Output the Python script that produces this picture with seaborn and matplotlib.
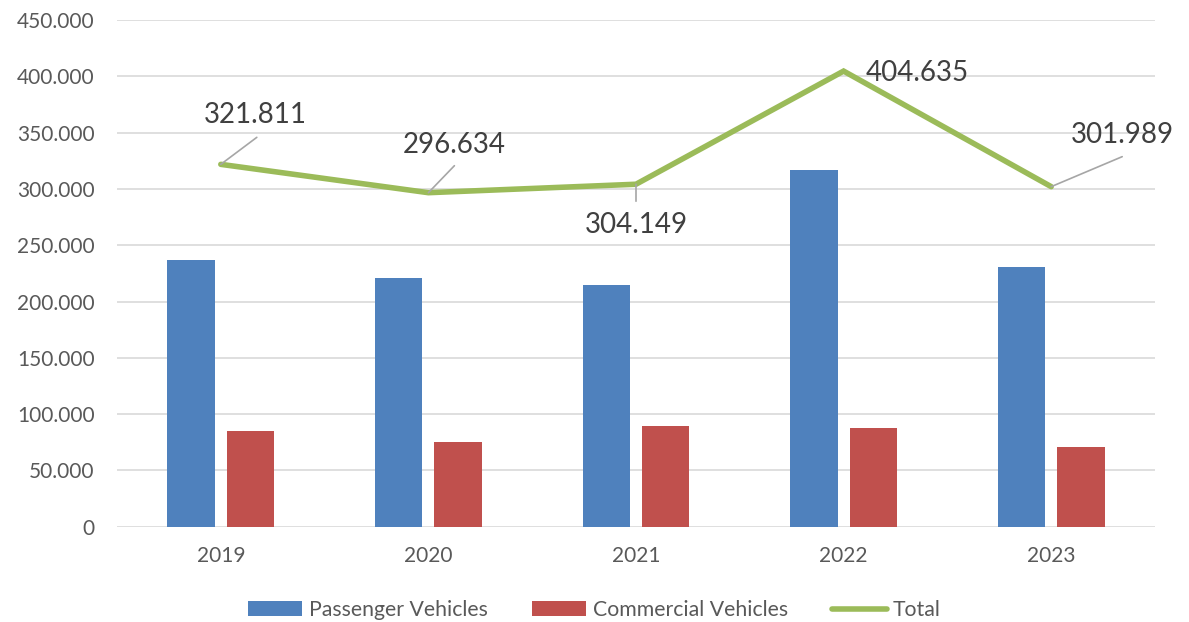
import matplotlib
matplotlib.use("Agg")
import matplotlib.pyplot as plt
from matplotlib.patches import Patch
from matplotlib.lines import Line2D
from matplotlib.ticker import FuncFormatter, MultipleLocator
import seaborn as sns
import pandas as pd

# ---- data (thousands of vehicles) ----
years = ["2019", "2020", "2021", "2022", "2023"]
passenger = [237.0, 221.2, 214.3, 316.9, 230.8]
commercial = [84.8, 75.4, 89.8, 87.7, 71.2]
totals = [321.811, 296.634, 304.149, 404.635, 301.989]
series_names = ["Passenger Vehicles", "Commercial Vehicles", "Total"]

# ---- styling ----
BLUE, RED, GREEN = "#4F81BD", "#C0504D", "#9BBB59"
TICK_C, LABEL_C, GRID_C, LEADER_C = "#595959", "#404040", "#D9D9D9", "#A6A6A6"

sns.set_theme(style="white")
plt.rcParams["font.family"] = ["Lato", "DejaVu Sans"]

df = pd.DataFrame({
    "year": years * 2,
    "value": passenger + commercial,
    "series": [series_names[0]] * len(years) + [series_names[1]] * len(years),
})

fig = plt.figure(figsize=(11.89, 6.22), dpi=100)
ax = fig.add_axes([117 / 1189, 1 - 526.7 / 622, (1155 - 117) / 1189, (526.7 - 20) / 622])

sns.barplot(data=df, x="year", y="value", hue="series", order=years,
            hue_order=series_names[:2], palette=[BLUE, RED],
            width=0.572, gap=0.2, saturation=1, edgecolor="none",
            legend=False, ax=ax, zorder=2)

sns.pointplot(x=years, y=totals, order=years, color=GREEN, markers="",
              linestyles="-", linewidth=4, ax=ax, zorder=3)
for ln in ax.lines:
    ln.set_solid_capstyle("round")
    ln.set_solid_joinstyle("miter")

ax.set_xlim(-0.5, len(years) - 0.5)
ax.set_ylim(0, 450)
ax.yaxis.set_major_locator(MultipleLocator(50))
ax.yaxis.set_major_formatter(FuncFormatter(
    lambda v, p: "0" if v == 0 else f"{int(round(v * 1000)):,}".replace(",", ".")))
ax.set_axisbelow(True)
ax.yaxis.grid(True, color=GRID_C, linewidth=1.2)
ax.xaxis.grid(False)
for s in ax.spines.values():
    s.set_visible(False)
ax.tick_params(axis="y", length=0, pad=16, labelsize=15, labelcolor=TICK_C)
ax.tick_params(axis="x", length=0, pad=14, labelsize=15, labelcolor=TICK_C)
ax.set_xlabel("")
ax.set_ylabel("")

# ---- data labels with leader lines (offsets in pixels) ----
label_offsets = [(35, 49), (26, 48), (0, -41), (74, -2), (71, 52)]
leader_offsets = [(36, 27), (26, 27), (0, -17), None, (71, 30)]
for i, t in enumerate(totals):
    lead = leader_offsets[i]
    if lead is not None:
        ax.annotate("", xy=(i, t), xytext=lead, textcoords="offset pixels",
                    arrowprops=dict(arrowstyle="-", color=LEADER_C, lw=1.2,
                                    shrinkA=0, shrinkB=0), zorder=4)
    ax.annotate(f"{t:.3f}", xy=(i, t), xytext=label_offsets[i],
                textcoords="offset pixels", ha="center", va="center",
                fontsize=20, color=LABEL_C, zorder=5)

# ---- legend ----
handles = [Patch(facecolor=BLUE, edgecolor="none"),
           Patch(facecolor=RED, edgecolor="none"),
           Line2D([], [], color=GREEN, lw=4, solid_capstyle="round")]
fig.legend(handles, series_names, loc="center", bbox_to_anchor=(0.5, 1 - 610 / 622),
           ncol=3, frameon=False, fontsize=15.3, labelcolor=TICK_C,
           handlelength=2.55, handleheight=0.65, handletextpad=0.3, columnspacing=2.1)

fig.savefig("out.png", dpi=100)
